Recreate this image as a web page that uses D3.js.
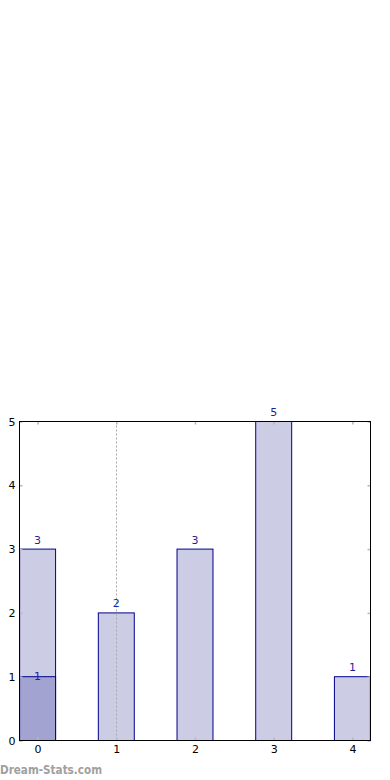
<!DOCTYPE html>
<html>
<head>
<meta charset="utf-8">
<script src="https://cdn.jsdelivr.net/npm/d3@7"></script>
<style>
html,body{margin:0;padding:0;background:#fff;}
svg{display:block;}
text{font-family:"DejaVu Sans",sans-serif;}
</style>
</head>
<body>
<svg id="chart" width="390" height="780"></svg>
<script>
const categories = [0, 1, 2, 3, 4];
const totals = [3, 2, 3, 5, 1];
const highlight = [1, 0, 0, 0, 0];
const yTicks = [0, 1, 2, 3, 4, 5];
const xTicks = [0, 1, 2, 3, 4];
const markerX = 1;

const svg = d3.select("#chart");
const pL = 19.5, pR = 370.5, pT = 421.5, pB = 740.5;
const x = d3.scaleLinear().domain([-0.23, 4.23]).range([pL, pR]);
const y = d3.scaleLinear().domain([0, 5]).range([pB, pT]);
const bw = 0.457;

const fillLight = "#ccccE5", fillDark = "#a3a3d1", stroke = "#00008b", labelCol = "#1f1f99";

// bars
svg.selectAll("rect.bar").data(categories).join("rect").attr("class", "bar")
  .attr("x", d => x(d - bw/2)).attr("width", d => x(d + bw/2) - x(d - bw/2))
  .attr("y", (d,i) => y(totals[i])).attr("height", (d,i) => y(0) - y(totals[i]))
  .attr("fill", fillLight).attr("stroke", stroke).attr("stroke-width", 1);

svg.selectAll("rect.hl").data(categories.filter((d,i) => highlight[i] > 0)).join("rect").attr("class", "hl")
  .attr("x", d => x(d - bw/2)).attr("width", d => x(d + bw/2) - x(d - bw/2))
  .attr("y", d => y(highlight[d])).attr("height", d => y(0) - y(highlight[d]))
  .attr("fill", fillDark).attr("stroke", stroke).attr("stroke-width", 1);

// dotted marker line
svg.append("line").attr("x1", Math.round(x(markerX))+0.5).attr("x2", Math.round(x(markerX))+0.5)
  .attr("y1", pT).attr("y2", pB)
  .attr("stroke", "#a8a8a8").attr("stroke-width", 1).attr("stroke-dasharray", "2,2");

// axes (ticks inside, grey; labels black)
const tickCol = "#b8b8b8";
function styleAxis(g) {
  g.select(".domain").remove();
  g.selectAll(".tick line").attr("stroke", tickCol).attr("stroke-width", 1.5);
  g.selectAll(".tick text").attr("fill", "#000").attr("font-size", 11).attr("font-family", "DejaVu Sans");
}
svg.append("g").attr("transform", `translate(0,${pB})`)
  .call(d3.axisBottom(x).tickValues(xTicks).tickSize(-3).tickPadding(5).tickFormat(d3.format("d")))
  .call(styleAxis);
svg.append("g").attr("transform", `translate(0,${pT})`)
  .call(d3.axisTop(x).tickValues(xTicks).tickSize(-3).tickFormat(""))
  .call(styleAxis);
svg.append("g").attr("transform", `translate(${pL},0)`)
  .call(d3.axisLeft(y).tickValues(yTicks).tickSize(-3).tickPadding(4).tickFormat(d3.format("d")))
  .call(styleAxis);
svg.append("g").attr("transform", `translate(${pR},0)`)
  .call(d3.axisRight(y).tickValues(yTicks).tickSize(-3).tickFormat(""))
  .call(styleAxis);

// frame
svg.append("rect").attr("x", pL).attr("y", pT).attr("width", pR-pL).attr("height", pB-pT)
  .attr("fill", "none").attr("stroke", "#000").attr("stroke-width", 1);

// value labels
svg.selectAll("text.vl").data(categories).join("text").attr("class", "vl")
  .attr("x", d => x(d)).attr("y", (d,i) => y(totals[i]) - 5.5).attr("text-anchor", "middle")
  .attr("font-size", 11).attr("fill", labelCol).text((d,i) => totals[i]);
svg.selectAll("text.hv").data(categories.filter((d,i) => highlight[i] > 0)).join("text").attr("class", "hv")
  .attr("x", d => x(d)).attr("y", d => y(highlight[d]) + 3).attr("text-anchor", "middle")
  .attr("font-size", 11).attr("fill", labelCol).text(d => highlight[d]);

// watermark
svg.append("text").attr("x", 0).attr("y", 774).attr("font-size", 12).attr("font-weight", "bold")
  .attr("textLength", 102).attr("lengthAdjust", "spacingAndGlyphs")
  .attr("fill", "#a0a0a0").text("Dream-Stats.com");
</script>
</body>
</html>
